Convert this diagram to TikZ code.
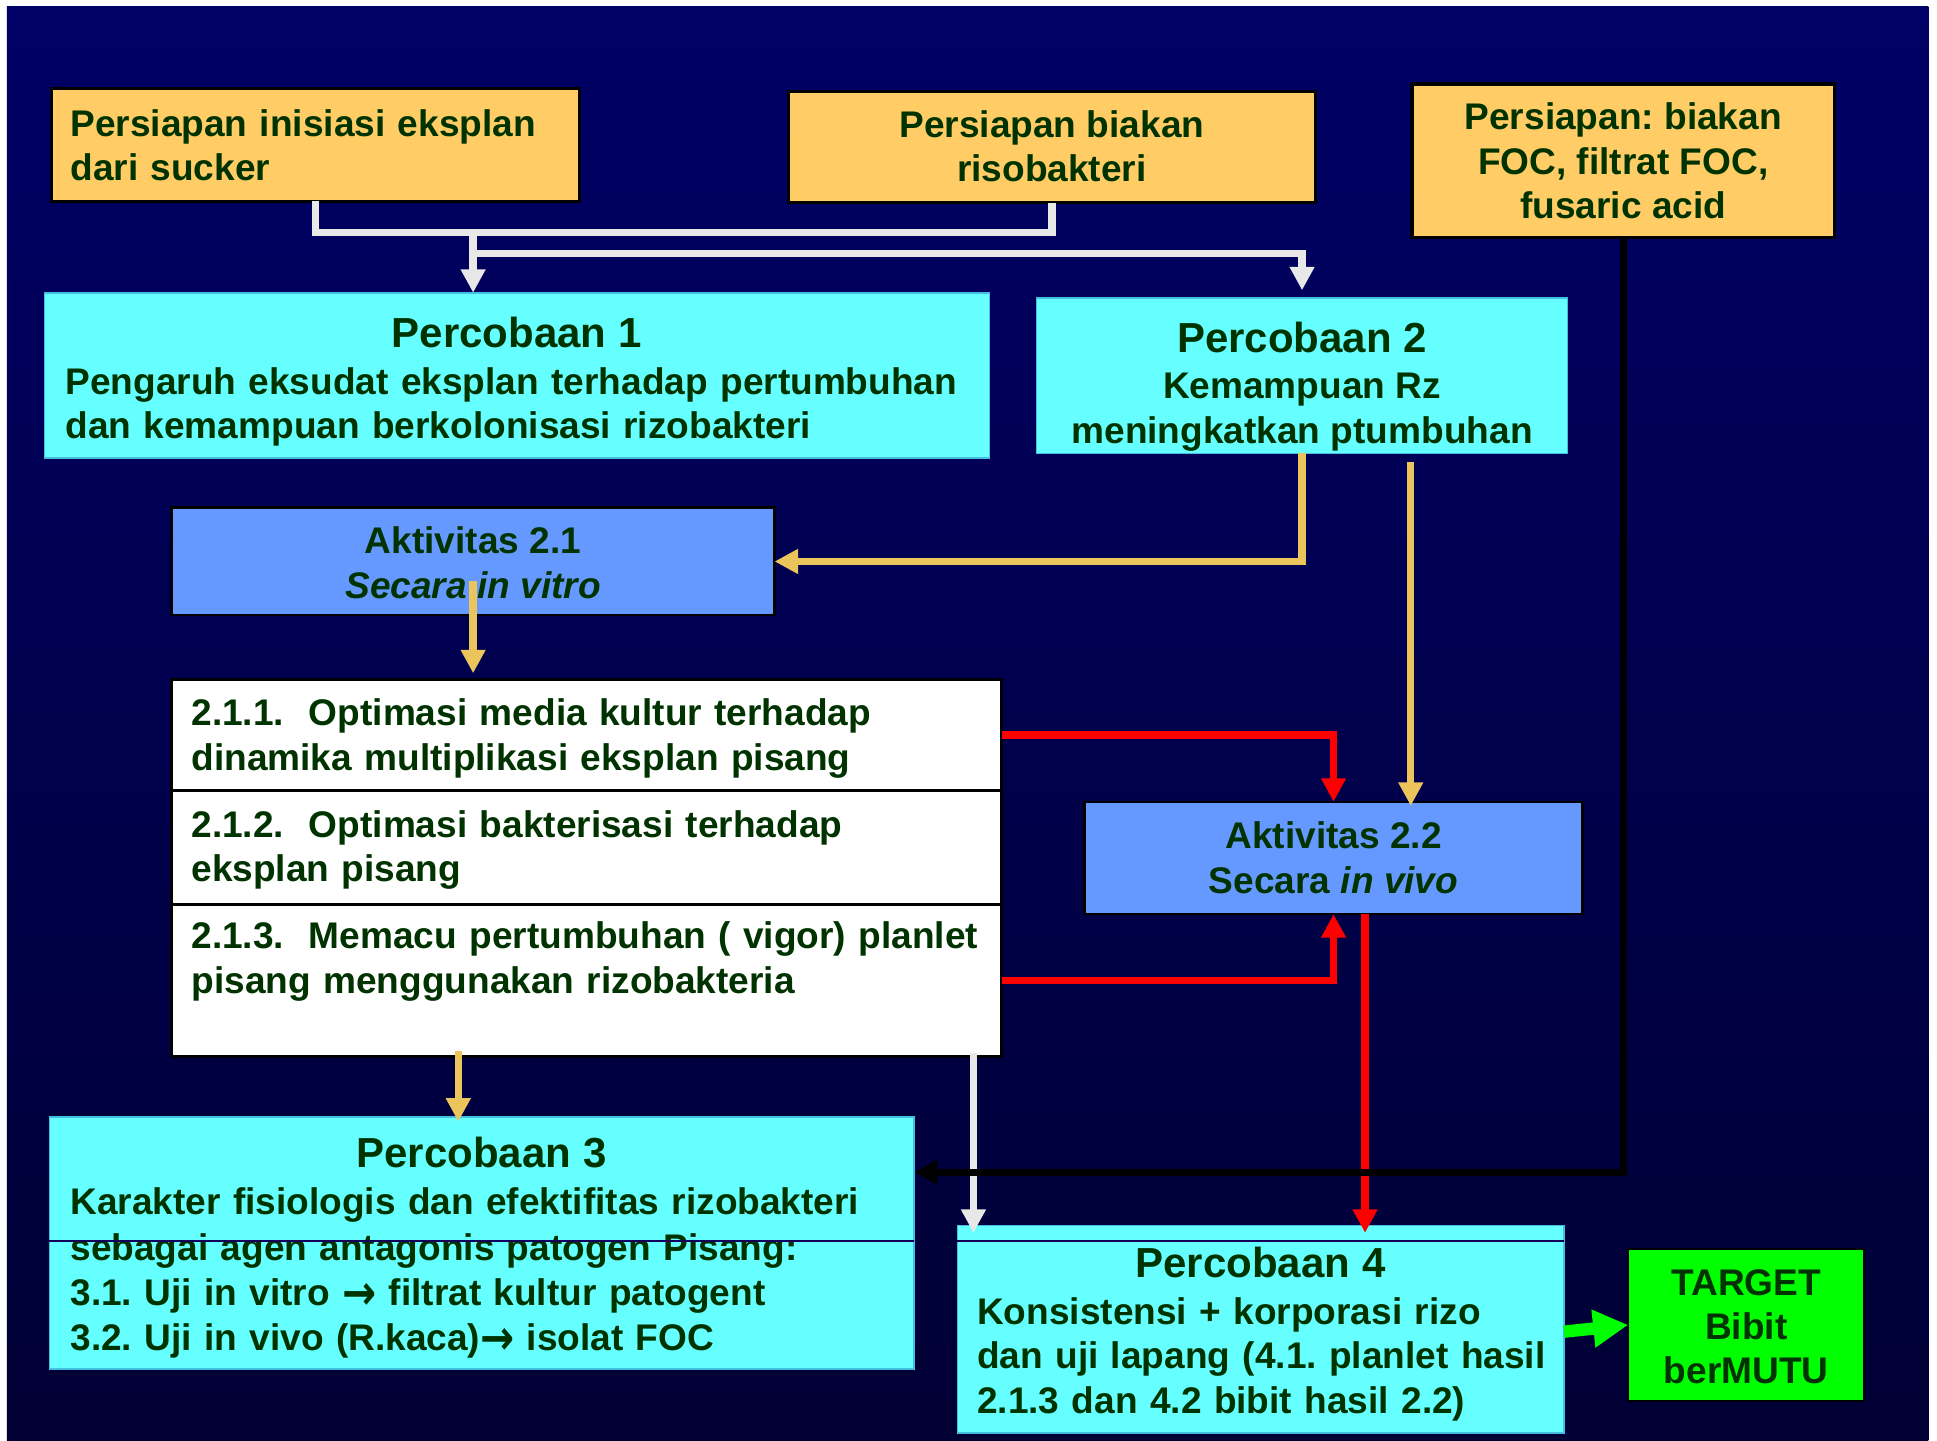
\documentclass[tikz,border=0pt]{standalone}
\usepackage{fontspec}
\setmainfont{Liberation Sans}
\newfontfamily\arrfont{DejaVu Sans}
\usetikzlibrary{arrows.meta}
\definecolor{bgtop}{RGB}{0,0,102}
\definecolor{bgbot}{RGB}{0,0,52}
\definecolor{txtgreen}{RGB}{0,51,0}
\definecolor{boxorange}{RGB}{255,204,102}
\definecolor{boxcyan}{RGB}{102,255,255}
\definecolor{cyanedge}{RGB}{70,190,225}
\definecolor{boxblue}{RGB}{102,153,255}
\definecolor{boxgreen}{RGB}{0,255,0}
\definecolor{lgrey}{RGB}{232,232,232}
\definecolor{lineorange}{RGB}{236,196,92}
\definecolor{navyline}{RGB}{20,0,90}
\newcommand\bodyfont{\fontsize{18}{21.6}\selectfont\bfseries\frenchspacing}
\newcommand\bodyfontwide{\fontsize{18}{22}\selectfont\bfseries\frenchspacing}
\newcommand\titlefont{\fontsize{20.4}{24}\selectfont\bfseries}
\newcommand\bigarrow{\raisebox{-0.1em}{\scalebox{1.1}[1.3]{\arrfont →}}}
\begin{document}
\begin{tikzpicture}[x=0.6pt,y=-0.6pt,
  every node/.style={outer sep=0pt},
  box/.style={rectangle, inner sep=0pt},
  txt/.style={inner sep=0pt, font=\bodyfont, text=txtgreen},
  orangebox/.style={box, fill=boxorange, draw=black, line width=1.5pt},
  cyanbox/.style={box, fill=boxcyan, draw=cyanedge, line width=0.8pt},
  bluebox/.style={box, fill=boxblue, draw=black, line width=1.2pt},
  whitebox/.style={box, fill=white, draw=black, line width=1.5pt},
  greenbox/.style={box, fill=boxgreen, draw=black, line width=1.2pt},
  arrowhd/.style={-{Triangle[width=11.4pt,length=11.4pt]}},
  wline/.style={draw=lgrey, line width=3.6pt},
  oline/.style={draw=lineorange, line width=3.6pt},
  rline/.style={draw=red, line width=3.6pt},
  bline/.style={draw=black, line width=3.6pt},
  gline/.style={draw=boxgreen, line width=6pt, -{Triangle[width=17.4pt,length=17pt]}},
  sepline/.style={draw=navyline, line width=0.8pt}
]
\useasboundingbox (0,0) rectangle (1568,1166);
\fill[white] (0,0) rectangle (1568,1166);
\shade[top color=bgtop, bottom color=bgbot] (5.5,5.5) rectangle (1561,1166);

% ---- boxes ----
\node[orangebox, minimum width=256.2pt, minimum height=54.6pt] (pa) at (255.5,117.5) {};
\node[orangebox, minimum width=256.2pt, minimum height=54pt] (pb) at (851.5,119) {};
\node[orangebox, minimum width=205.2pt, minimum height=74.4pt] (pc) at (1314,130) {};
\node[cyanbox, minimum width=459pt, minimum height=80.4pt] (p1) at (418.5,304) {};
\node[cyanbox, minimum width=258pt, minimum height=75.6pt] (p2) at (1054,304) {};
\node[bluebox, minimum width=292.8pt, minimum height=52.2pt] (a21) at (383,454.5) {};
\node[whitebox, minimum width=403.2pt, minimum height=54pt] (w1) at (475,595) {};
\node[whitebox, minimum width=403.2pt, minimum height=55.2pt] (w2) at (475,686) {};
\node[whitebox, minimum width=403.2pt, minimum height=73.8pt] (w3) at (475,793.5) {};
\node[bluebox, minimum width=241.8pt, minimum height=54.6pt] (a22) at (1079.5,694.5) {};
\node[cyanbox, minimum width=420pt, minimum height=122.4pt] (p3) at (390,1006) {};
\node[cyanbox, minimum width=294.6pt, minimum height=100.8pt] (p4) at (1020.5,1076) {};
\node[greenbox, minimum width=114.6pt, minimum height=73.8pt] (tg) at (1413.5,1072.5) {};

% ---- texts ----
\node[txt, text width=238.2pt, align=left] (pat) at (255.5,117.5)
  {Persiapan inisiasi eksplan\\dari sucker};
\node[txt, align=center] (pbt) at (851.5,118.5)
  {Persiapan biakan\\risobakteri};
\node[txt, align=center] (pct) at (1314,130.5)
  {Persiapan: biakan\\FOC, filtrat FOC,\\fusaric acid};
\node[txt, text width=438.6pt, align=left] (p1t) at (418.5,309)
  {\makebox[\linewidth]{\titlefont Percobaan 1}\\[1pt]\mbox{Pengaruh eksudat eksplan terhadap pertumbuhan}\\\mbox{dan kemampuan berkolonisasi rizobakteri}};
\node[txt, align=center] (p2t) at (1054,313)
  {{\titlefont Percobaan 2}\\[1pt]Kemampuan Rz\\meningkatkan ptumbuhan};
\node[txt, align=center] (a21t) at (383,455.5)
  {Aktivitas 2.1\\{\itshape Secara in vitro}};
\node[txt, text width=384pt, align=left] (w1t) at (475,598)
  {\mbox{2.1.1.\ \ Optimasi media kultur terhadap}\\\mbox{dinamika multiplikasi eksplan pisang}};
\node[txt, text width=384pt, align=left] (w2t) at (475,688)
  {\mbox{2.1.2.\ \ Optimasi bakterisasi terhadap}\\\mbox{eksplan pisang}};
\node[txt, text width=384pt, align=left] (w3t) at (475,778.5)
  {\mbox{2.1.3.\ \ Memacu pertumbuhan ( vigor) planlet}\\\mbox{pisang menggunakan rizobakteria}};
\node[txt, align=center] (a22t) at (1079.5,694.5)
  {Aktivitas 2.2\\Secara {\itshape in vivo}};
\node[txt, font=\bodyfontwide, text width=399.6pt, align=left] (p3t) at (390,1010)
  {\makebox[\linewidth]{\titlefont Percobaan 3}\\[1pt]\mbox{Karakter fisiologis dan efektifitas rizobakteri}\\\mbox{sebagai agen antagonis patogen Pisang:}\\\mbox{3.1. Uji in vitro \bigarrow{} filtrat kultur patogent}\\\mbox{3.2. Uji in vivo (R.kaca)\bigarrow{} isolat FOC}};
\node[txt, text width=275.4pt, align=left] (p4t) at (1020.5,1080)
  {\makebox[\linewidth]{\titlefont Percobaan 4}\\[1pt]\mbox{Konsistensi + korporasi rizo}\\\mbox{dan uji lapang (4.1. planlet hasil}\\\mbox{2.1.3 dan 4.2 bibit hasil 2.2)}};
\node[txt, align=center] (tgt) at (1413.5,1074)
  {TARGET\\Bibit\\berMUTU};

% separator lines across the lower boxes
\draw[sepline] (p3.west |- 0,1004.5) -- (p3.east |- 0,1004.5);
\draw[sepline] (p4.west |- 0,1004.5) -- (p4.east |- 0,1004.5);

% ---- connectors ----
\draw[wline] (pa.south) -- ++(0,25) -| (pb.south);
\coordinate (jA) at (383,188);
\coordinate (jB) at (383,205);
\draw[wline, arrowhd] (jA) -- (jA |- p1.north);
\draw[wline, arrowhd, shorten >=3.6pt] (jB) -| (p2.north);

\draw[oline, arrowhd] (p2.south) |- (a21.east);
\coordinate (oB) at (1142,374);
\draw[oline, arrowhd, shorten >=-2pt] (oB) -- (oB |- a22.north);
\coordinate (oC) at (383,470);
\draw[oline, arrowhd, shorten >=3pt] (oC) -- (oC |- w1.north);
\coordinate (oD) at (371,851);
\draw[oline, arrowhd, shorten >=-2.4pt] (oD) -- (oD |- p3.north);

\coordinate (wD) at (788,852);
\draw[wline, arrowhd, shorten >=-3.6pt] (wD) -- (wD |- p4.north);

\draw[rline, arrowhd] (w1.east) -| (a22.north);
\draw[rline, arrowhd] (w3.east) -| (a22.south);
\coordinate (rC) at (1105,740);
\draw[rline, arrowhd, shorten >=-3.6pt] (rC) -- (rC |- p4.north);

\coordinate (bk) at (1314,949);
\draw[bline, arrowhd] (pc.south) -- (bk) -- (bk -| p3.east);

\draw[gline] ([yshift=-1.2pt]p4.east) -- (tg.west);
\end{tikzpicture}
\end{document}
